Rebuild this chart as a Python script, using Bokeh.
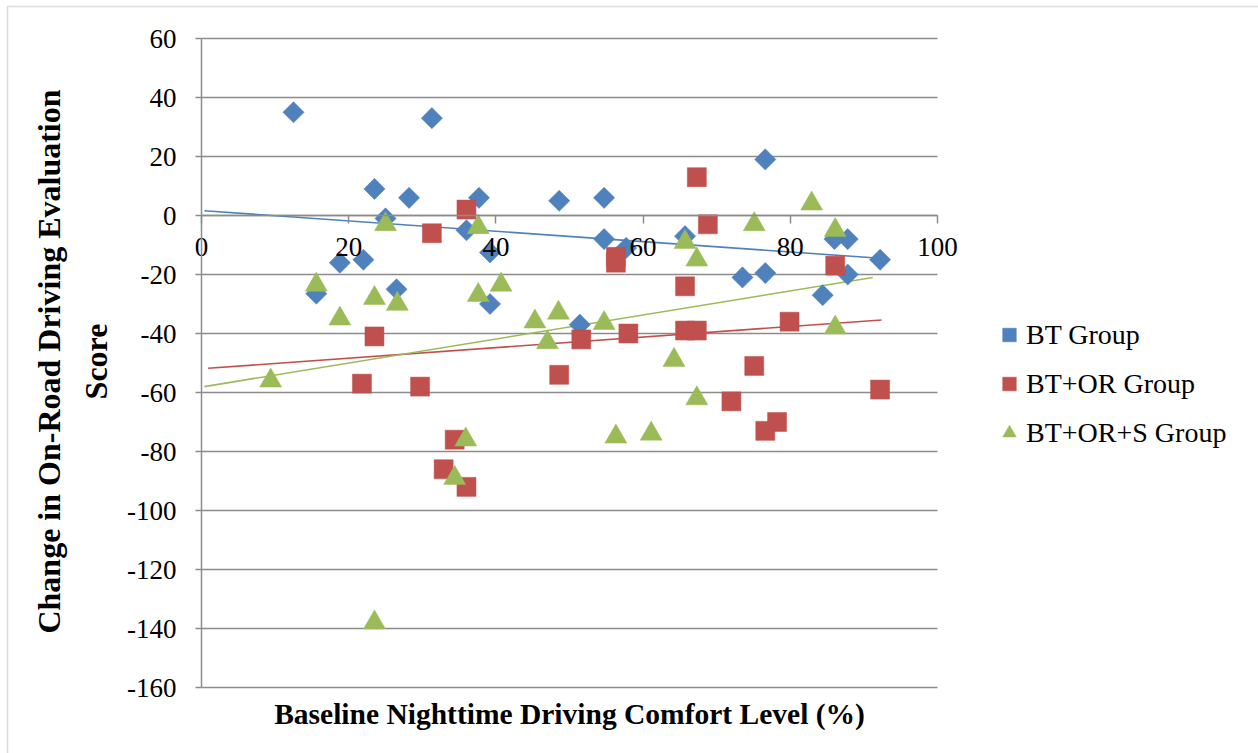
import numpy as np
from bokeh.plotting import figure
from bokeh.models import (Range1d, LinearAxis, FixedTicker, Label, Legend, LegendItem,
                          BoxAnnotation)
from bokeh.embed import file_html
from bokeh.resources import INLINE

# ---------------- data ----------------
bt_x = [12.5, 31.3, 23.5, 28.2, 25.0, 37.7, 36.0, 18.8, 22.0, 15.6, 26.5, 39.2, 39.2,
        48.6, 54.7, 54.7, 57.7, 51.4, 65.7, 76.6, 73.5, 76.6, 84.4, 86.0, 87.8, 87.8, 92.2]
bt_y = [35, 33, 9, 6, -1, 6, -5, -16, -15, -26.5, -25, -12.5, -30,
        5, 6, -8, -11, -37, -7, 19, -21, -19.5, -27, -8, -8, -20, -15]

btor_x = [36.0, 31.3, 21.8, 23.5, 29.7, 34.4, 32.9, 36.0, 48.6, 67.3, 68.8, 56.3, 56.3,
          65.7, 51.6, 58.0, 65.7, 67.3, 79.9, 86.1, 75.1, 92.2, 72.0, 76.6, 78.2]
btor_y = [2, -6, -57, -41, -58, -76, -86, -92, -54, 13, -3, -14, -16,
          -24, -42, -40, -39, -39, -36, -17, -51, -59, -63, -73, -70]

btors_x = [25.0, 37.6, 15.6, 23.5, 26.6, 18.8, 37.6, 40.7, 45.3, 48.5, 47.0, 9.4, 35.9,
           34.4, 23.5, 82.9, 75.1, 86.1, 65.7, 67.3, 54.7, 64.2, 86.1, 67.3, 56.3, 61.1]
btors_y = [-3, -4, -23.5, -28, -30, -35, -27, -23.5, -36, -33, -43, -56, -76,
           -89, -138, 4, -3, -5, -9, -15, -36.5, -49, -38, -62, -75, -74]

# linear trendlines (end points)
bt_trend_x = [0.4, 92.2]
bt_trend_y = [1.6, -14.5]
btor_trend_x = [0.9, 92.4]
btor_trend_y = [-51.8, -35.4]
btors_trend_x = [0.4, 91.2]
btors_trend_y = [-58.0, -21.0]

series_names = ["BT Group", "BT+OR Group", "BT+OR+S Group"]
x_ticks = [0, 20, 40, 60, 80, 100]
y_ticks = [60, 40, 20, 0, -20, -40, -60, -80, -100, -120, -140, -160]
y_tick_labels = ["60", "40", "20", "0", "-20", "-40", "-60", "-80",
                 "-100", "-120", "-140", "-160"]
x_title = "Baseline Nighttime Driving Comfort Level (%)"
y_title_1 = "Change in On-Road Driving Evaluation"
y_title_2 = "Score"

# ---------------- styling ----------------
BLUE = "#4F81BD"
RED = "#C0504D"
GREEN = "#9BBB59"
GRID = "#8C8C8C"
FONT = "Liberation Serif"

W, H = 1258, 753
# plot-area edges in canvas pixels
FL, FR, FT, FB = 201, 937, 38, 687
X0, X1 = 0, 100
Y0, Y1 = -160, 60
kx = (FR - FL) / (X1 - X0)
ky = (FB - FT) / (Y1 - Y0)
x_range = Range1d(X0 - FL / kx, X1 + (W - FR) / kx)
y_range = Range1d(Y0 - (H - FB) / ky, Y1 + FT / ky)

p = figure(width=W, height=H, output_backend="svg", toolbar_location=None,
           x_range=x_range, y_range=y_range,
           x_axis_type=None, y_axis_type=None,
           min_border=0)
p.outline_line_color = None
p.background_fill_color = "white"
p.border_fill_color = "white"
p.xgrid.visible = False
p.ygrid.visible = False

# horizontal gridlines limited to the plot area
p.segment(x0=[X0] * len(y_ticks), x1=[X1] * len(y_ticks), y0=y_ticks, y1=y_ticks,
          line_color=GRID, line_width=1.5)

# y axis crossing at x = 0
yax = LinearAxis(ticker=FixedTicker(ticks=y_ticks), fixed_location=0, bounds=(Y0, Y1))
yax.major_label_overrides = dict(zip(y_ticks, y_tick_labels))
yax.axis_line_color = GRID
yax.axis_line_width = 1.5
yax.major_tick_line_color = GRID
yax.major_tick_line_width = 1.5
yax.major_tick_in = 0
yax.major_tick_out = 6
yax.minor_tick_line_color = None
yax.major_label_standoff = 19
yax.major_label_text_font = FONT
yax.major_label_text_font_size = "27px"
yax.major_label_text_color = "black"
p.add_layout(yax, "left")

# x axis crossing at y = 0
xax = LinearAxis(ticker=FixedTicker(ticks=x_ticks), fixed_location=0, bounds=(X0, X1))
xax.axis_line_color = GRID
xax.axis_line_width = 1.5
xax.major_tick_line_color = GRID
xax.major_tick_line_width = 1.5
xax.major_tick_in = 0
xax.major_tick_out = 8
xax.minor_tick_line_color = None
xax.major_label_standoff = 14
xax.major_label_text_font = FONT
xax.major_label_text_font_size = "27px"
xax.major_label_text_color = "black"
p.add_layout(xax, "below")

# trendlines
p.line(bt_trend_x, bt_trend_y, line_color=BLUE, line_width=1.6)
p.line(btor_trend_x, btor_trend_y, line_color=RED, line_width=1.6)
p.line(btors_trend_x, btors_trend_y, line_color=GREEN, line_width=1.6)

# scatter markers
r_bt = p.scatter(bt_x, bt_y, marker="square", angle=np.pi / 4, size=15,
                 fill_color=BLUE, line_color=BLUE, line_width=0.5)
r_btor = p.scatter(btor_x, btor_y, marker="square", size=19,
                   fill_color=RED, line_color=RED, line_width=0.5)
r_btors = p.scatter(btors_x, btors_y, marker="triangle", size=22,
                    fill_color=GREEN, line_color=GREEN, line_width=0.5)

# legend (right of the plot area)
legend = Legend(items=[LegendItem(label=series_names[0], renderers=[r_bt]),
                       LegendItem(label=series_names[1], renderers=[r_btor]),
                       LegendItem(label=series_names[2], renderers=[r_btors])],
                location=(992, H - 457))
legend.background_fill_alpha = 0
legend.border_line_color = None
legend.padding = 0
legend.margin = 0
legend.spacing = 0
legend.glyph_width = 34
legend.glyph_height = 49
legend.label_height = 49
legend.label_standoff = 0
legend.label_text_font = FONT
legend.label_text_font_size = "28px"
legend.label_text_color = "black"
p.add_layout(legend, "center")

# axis titles
p.add_layout(Label(x=569, y=H - 713, x_units="screen", y_units="screen",
                   text=x_title, text_font=FONT, text_font_size="29.5px",
                   text_font_style="bold", text_align="center", text_baseline="middle",
                   text_color="black"))
p.add_layout(Label(x=48, y=H - 361, x_units="screen", y_units="screen",
                   text=y_title_1, angle=np.pi / 2, text_font=FONT, text_font_size="32px",
                   text_font_style="bold", text_align="center", text_baseline="middle",
                   text_color="black"))
p.add_layout(Label(x=95, y=H - 361, x_units="screen", y_units="screen",
                   text=y_title_2, angle=np.pi / 2, text_font=FONT, text_font_size="32px",
                   text_font_style="bold", text_align="center", text_baseline="middle",
                   text_color="black"))

# outer chart border (left and top edges visible)
p.add_layout(BoxAnnotation(left=7, right=W + 50, top=H - 6, bottom=-50,
                           left_units="screen", right_units="screen",
                           top_units="screen", bottom_units="screen",
                           fill_alpha=0, line_color=GRID, line_width=1.5))

open("out.html", "w").write(file_html(p, INLINE))
